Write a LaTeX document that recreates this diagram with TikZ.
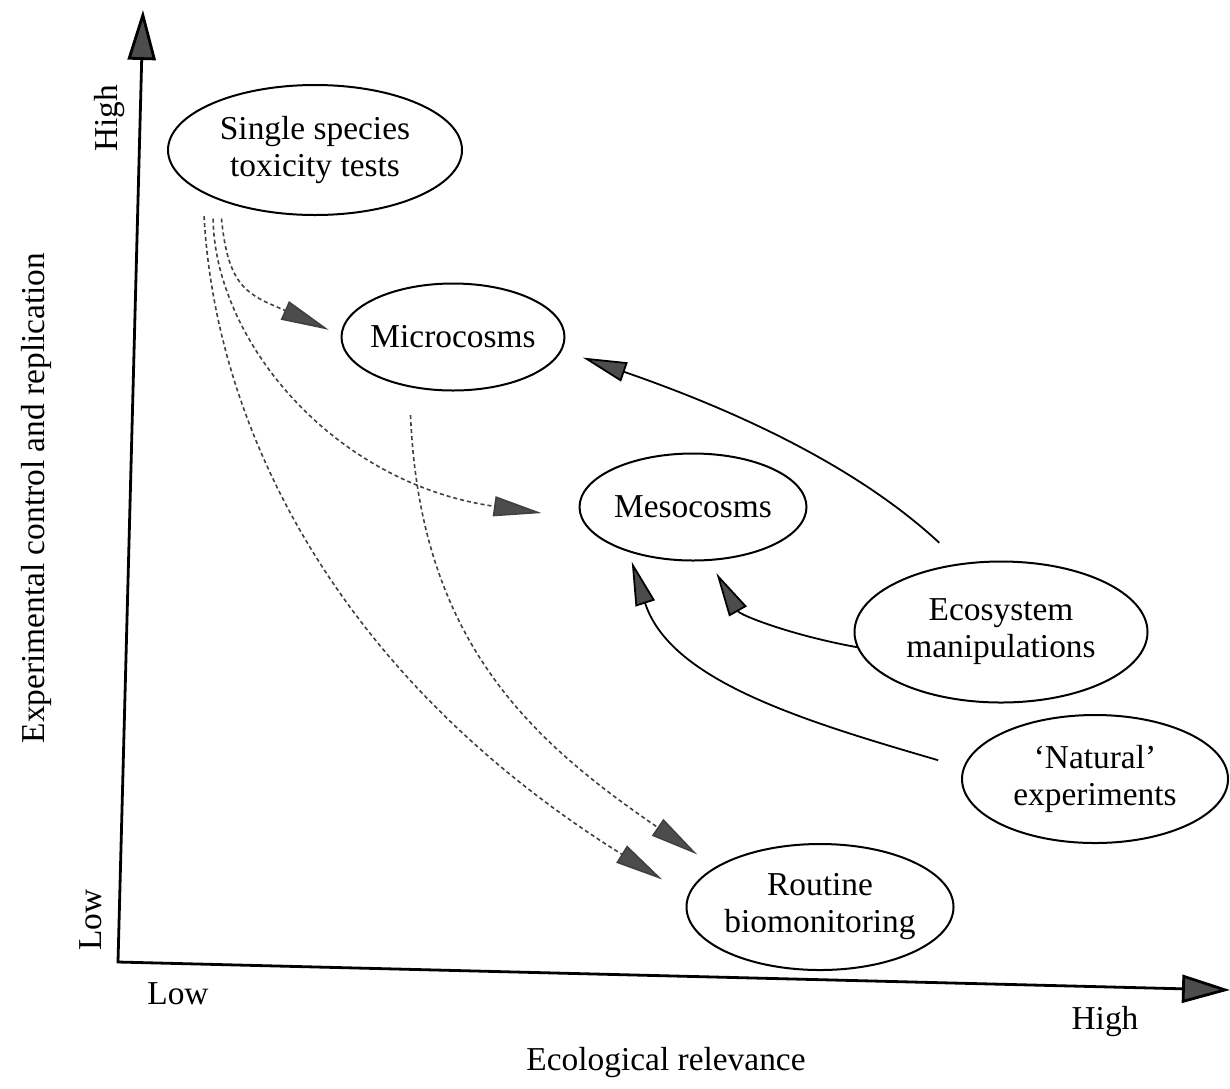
\documentclass[tikz,border=0pt]{standalone}
\usepackage{fontspec}
\setmainfont{Liberation Serif}
\usetikzlibrary{arrows.meta}
\usetikzlibrary{shapes.geometric}

\begin{document}
\begin{tikzpicture}[x=0.5pt,y=-0.5pt,
	font=\fontsize{16.7}{18.5}\selectfont,
	bubble/.style={ellipse,draw,line width=1pt,align=center,inner xsep=-2pt,inner ysep=0pt},
	lab/.style={inner sep=0pt},
	axis/.style={line width=1.4pt,{Triangle[length=25pt,width=14pt,fill=black!70]}-{Triangle[length=24pt,width=14pt,fill=black!70]}},
	trend/.style={line width=0.8pt,black!75,dash pattern=on 2pt off 1.5pt,-{Triangle[length=24pt,width=10pt,fill=black!70]}},
	push/.style={line width=0.9pt,-{Triangle[length=22pt,width=10pt,fill=black!70]}}
	]
	\useasboundingbox (0,0) rectangle (1230,1088);

	% axes
	\coordinate (origin) at (118,962);
	\coordinate (ytop) at (143,10);
	\coordinate (xend) at (1230,990);
	\draw [axis] (ytop) -- (origin) -- (xend);

	\node [lab,rotate=90] (ylabel)	at (36,498)	{Experimental control and replication};
	\node [lab,rotate=90] (yhigh)	at (110,118)	{High};
	\node [lab,rotate=90] (ylow)	at (91,920)	{Low};
	\node [lab] (xlow)		at (178,994)	{Low};
	\node [lab] (xhigh)		at (1105,1021)	{High};
	\node [lab] (xlabel)		at (666,1062)	{Ecological relevance};

	% study types
	\node [bubble,minimum width=147pt,minimum height=65pt] (single)	at (315,150)	{Single species\\toxicity tests};
	\node [bubble,minimum width=111.5pt,minimum height=53.5pt] (micro)	at (453,337)	{Microcosms};
	\node [bubble,minimum width=113.5pt,minimum height=53.5pt] (meso)	at (693,507)	{Mesocosms};
	\node [bubble,minimum width=146.5pt,minimum height=70.5pt] (eco)	at (1001,632)	{Ecosystem\\manipulations};
	\node [bubble,minimum width=133pt,minimum height=64pt] (nat)		at (1095,779)	{`Natural'\\experiments};
	\node [bubble,minimum width=133.5pt,minimum height=63pt] (routine)	at (820,907)	{Routine\\biomonitoring};

	% dashed links
	\draw [trend,shorten <=9pt,shorten >=6.5pt] (single.208)	.. controls (228,290) and (250,295) ..	(micro.179);
	\draw [trend,shorten <=10.5pt,shorten >=20pt] (single.205)	.. controls (215,340) and (332,483) ..	(meso.186);
	\draw [trend,shorten <=11.5pt,shorten >=15pt] (single.201)	.. controls (215,420) and (330,672) ..	(routine.175);
	\draw [trend,shorten <=14pt,shorten >=11pt] (micro.229)	.. controls (420,640) and (530,740) ..	(routine.159);

	% solid links
	\draw [push,shorten <=15pt,shorten >=11pt] (eco.120)	.. controls (850,460) and (720,405) ..	(micro.353);
	\draw [push,shorten >=7pt] (eco.186)			.. controls (790,635) and (740,615) ..	(meso.287);
	\draw [push,shorten <=13pt,shorten >=5pt] (nat.175)	.. controls (800,720) and (670,680) ..	(meso.215);

\end{tikzpicture}
\end{document}
